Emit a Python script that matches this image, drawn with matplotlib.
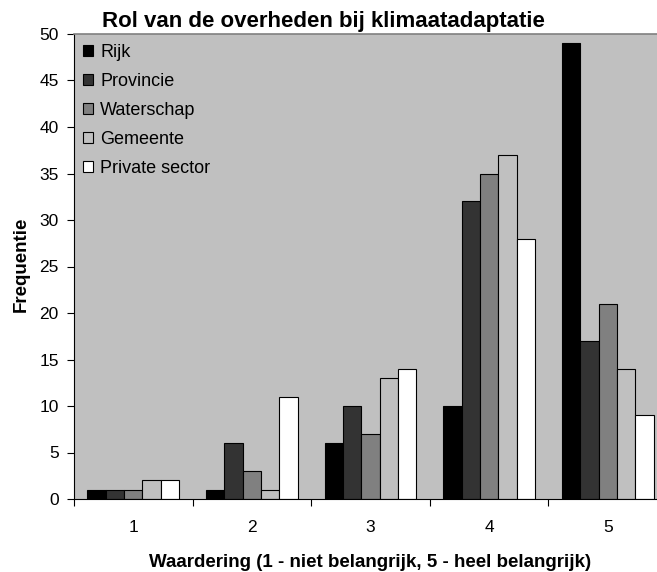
import matplotlib
matplotlib.use("Agg")
import matplotlib.pyplot as plt
import numpy as np
from matplotlib.patches import Patch

plt.rcParams['font.family'] = ['Liberation Sans', 'DejaVu Sans']

# data
categories = ["1", "2", "3", "4", "5"]
series = ["Rijk", "Provincie", "Waterschap", "Gemeente", "Private sector"]
rijk = [1, 1, 6, 10, 49]
provincie = [1, 6, 10, 32, 17]
waterschap = [1, 3, 7, 35, 21]
gemeente = [2, 1, 13, 37, 14]
private_sector = [2, 11, 14, 28, 9]
colors = ["#000000", "#333333", "#808080", "#c0c0c0", "#ffffff"]

W, H = 657, 572  # figure size in pixels

def main():
    fig = plt.figure(figsize=(W / 100, H / 100), dpi=100)
    # plot area runs a bit past the right edge of the picture, as in the reference
    ax = fig.add_axes([74 / W, 1 - 499 / H, (667 - 74) / W, (499 - 34) / H])
    ax.set_facecolor("#c0c0c0")

    x = np.arange(len(categories))
    w = 0.155
    all_data = [rijk, provincie, waterschap, gemeente, private_sector]
    for i, (name, vals) in enumerate(zip(series, all_data)):
        ax.bar(x + (i - 2) * w, vals, w, color=colors[i], edgecolor="black",
               linewidth=0.8, label=name, zorder=2)

    ax.set_xlim(-0.5, 4.5)
    ax.set_ylim(0, 50)
    ax.set_yticks(range(0, 51, 5))
    ax.set_xticks(np.arange(-0.5, 4.6, 1.0))
    ax.set_xticklabels([])
    ax.set_xticks(x, minor=True)
    ax.set_xticklabels(categories, minor=True)
    ax.tick_params(axis="x", which="minor", length=0, pad=15, labelsize=12.5)
    ax.tick_params(axis="x", which="major", length=5, direction="out")
    ax.tick_params(axis="y", length=5, direction="out", labelsize=12.5, pad=6)

    ax.spines["right"].set_visible(False)
    ax.spines["top"].set_color("#808080")
    ax.spines["top"].set_linewidth(1.2)

    fig.text(102 / W, 1 - 27 / H, "Rol van de overheden bij klimaatadaptatie",
             fontsize=16, fontweight="bold", ha="left", va="baseline")
    fig.text(((74 + 667) / 2) / W, 1 - 567 / H,
             "Waardering (1 - niet belangrijk, 5 - heel belangrijk)",
             fontsize=13.5, fontweight="bold", ha="center", va="baseline")
    fig.text(21 / W, 1 - 264 / H, "Frequentie", fontsize=13.5,
             fontweight="bold", rotation=90, ha="center", va="center")

    handles = [Patch(facecolor=c, edgecolor="black", linewidth=0.8, label=s)
               for c, s in zip(colors, series)]
    ax.legend(handles=handles, loc="upper left", bbox_to_anchor=(83 / W, 1 - 44 / H),
              bbox_transform=fig.transFigure, frameon=False, fontsize=13,
              handlelength=0.56, handleheight=0.56, handletextpad=0.4,
              labelspacing=0.66, borderpad=0, borderaxespad=0)

    fig.savefig("out.png", dpi=100)

if __name__ == "__main__":
    main()
